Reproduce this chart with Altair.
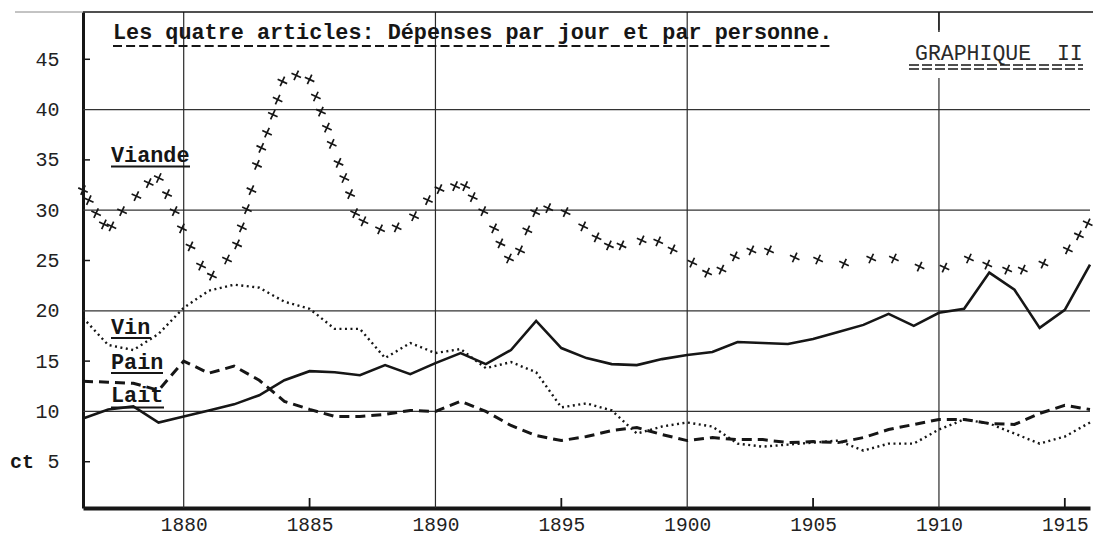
import altair as alt
import pandas as pd

# ---------------- data ----------------
years = list(range(1876, 1917))

vin = [19.3, 16.6, 16.1, 17.7, 20.3, 22.0, 22.6, 22.3, 20.9, 20.2,
       18.2, 18.2, 15.3, 16.8, 15.8, 16.2, 14.3, 14.9, 13.9, 10.4,
       10.8, 10.1, 7.8, 8.5, 8.9, 8.5, 6.8, 6.5, 6.7, 6.9,
       7.1, 6.1, 6.8, 6.8, 8.2, 9.2, 8.8, 7.8, 6.8, 7.5, 8.9]

pain = [13.0, 12.9, 12.8, 12.1, 15.0, 13.8, 14.5, 13.1, 11.0, 10.2,
        9.5, 9.5, 9.7, 10.1, 10.0, 11.0, 10.0, 8.6, 7.6, 7.1,
        7.5, 8.1, 8.4, 7.7, 7.1, 7.4, 7.2, 7.2, 6.9, 7.0,
        6.9, 7.4, 8.2, 8.7, 9.2, 9.2, 8.8, 8.7, 9.8, 10.6, 10.2]

lait = [9.3, 10.2, 10.5, 8.9, 9.5, 10.1, 10.7, 11.6, 13.1, 14.0,
        13.9, 13.6, 14.6, 13.7, 14.8, 15.8, 14.7, 16.1, 19.0, 16.3,
        15.3, 14.7, 14.6, 15.2, 15.6, 15.9, 16.9, 16.8, 16.7, 17.2,
        17.9, 18.6, 19.7, 18.5, 19.8, 20.2, 23.8, 22.1, 18.3, 20.1, 24.6]

viande_years = [1876.0, 1876.23, 1876.52, 1876.83, 1877.13, 1877.55, 1878.12, 1878.61,
                1879.01, 1879.34, 1879.64, 1879.93, 1880.27, 1880.69, 1881.12, 1881.72,
                1882.12, 1882.31, 1882.51, 1882.69, 1882.91, 1883.08, 1883.31, 1883.54,
                1883.73, 1883.92, 1884.47, 1885.0, 1885.25, 1885.45, 1885.69, 1885.88,
                1886.15, 1886.38, 1886.61, 1886.81, 1887.14, 1887.8, 1888.46, 1889.15,
                1889.7, 1890.16, 1890.78, 1891.18, 1891.48, 1891.9, 1892.33, 1892.58,
                1892.92, 1893.36, 1893.65, 1893.96, 1894.48, 1895.17, 1895.87, 1896.4,
                1896.89, 1897.39, 1898.19, 1898.85, 1899.42, 1900.2, 1900.79, 1901.36,
                1901.89, 1902.55, 1903.25, 1904.27, 1905.2, 1906.23, 1907.31, 1908.21,
                1909.23, 1910.22, 1911.19, 1911.92, 1912.71, 1913.33, 1914.15, 1915.12,
                1915.56, 1915.91]
viande = [32.0, 31.0, 29.7, 28.6, 28.4, 29.9, 31.4, 32.7,
          33.2, 31.6, 29.9, 28.2, 26.4, 24.5, 23.5, 25.1,
          26.6, 28.3, 30.1, 32.0, 34.5, 36.2, 37.7, 39.5,
          41.0, 42.8, 43.4, 43.0, 41.3, 39.8, 38.2, 36.6,
          34.7, 33.2, 31.6, 29.7, 28.9, 28.1, 28.3, 29.4,
          31.0, 32.1, 32.4, 32.4, 31.3, 29.9, 28.2, 26.7,
          25.2, 26.0, 28.0, 29.8, 30.2, 29.8, 28.4, 27.3,
          26.5, 26.5, 27.0, 26.9, 26.1, 24.8, 23.8, 24.1,
          25.4, 26.0, 26.0, 25.3, 25.1, 24.7, 25.2, 25.2,
          24.4, 24.3, 25.2, 24.6, 24.1, 24.1, 24.7, 26.1,
          27.5, 28.7]

x_tick_labels = [1880, 1885, 1890, 1895, 1900, 1905, 1910, 1915]
y_tick_labels = [5, 10, 15, 20, 25, 30, 35, 40, 45]
grid_years = [1880, 1890, 1900, 1910]
grid_values = [10, 20, 30, 40]
minor_x_ticks = [1885, 1895, 1905, 1915]
minor_y_ticks = [5, 15, 25, 35, 45]

title_text = "Les quatre articles: Dépenses par jour et par personne."
badge_text = "GRAPHIQUE\u00a0\u00a0II"

# ---------------- chart ----------------
FONT = "Liberation Mono"
INK = "#161616"
W, H = 1007, 496

xs = alt.Scale(domain=[1876, 1916], nice=False, zero=False)
ys = alt.Scale(domain=[0.4, 49.7], nice=False, zero=False)

x_axis = alt.Axis(values=x_tick_labels, format="d", title=None, grid=False, ticks=False,
                  labelFont=FONT, labelFontSize=19.5, labelColor="#222", labelPadding=22.5,
                  domainColor=INK, domainWidth=4, labelBaseline="alphabetic")
y_axis = alt.Axis(values=y_tick_labels, title=None, grid=False, ticks=False,
                  labelFont=FONT, labelFontSize=20, labelColor="#222", labelPadding=24,
                  domainColor=INK, domainWidth=3, labelBaseline="middle")


def X(field):
    return alt.X(field, type="quantitative", scale=xs, axis=x_axis)


def Y(field):
    return alt.Y(field, type="quantitative", scale=ys, axis=y_axis)


df_lines = pd.DataFrame({"year": years, "vin": vin, "pain": pain, "lait": lait})
df_viande = pd.DataFrame({"year": viande_years, "value": viande})
one = pd.DataFrame({"k": [0]})

hgrid = alt.Chart(pd.DataFrame({"v": grid_values})).mark_rule(
    color="#333", strokeWidth=1.3).encode(y=Y("v"))
vgrid = alt.Chart(pd.DataFrame({"yr": grid_years})).mark_rule(
    color="#2a2a2a", strokeWidth=1.2).encode(x=X("yr"))

blank = alt.Chart(one).mark_rect(color="white").encode(
    x=alt.value(820), x2=alt.value(1006), y=alt.value(18), y2=alt.value(66))

top_faint = alt.Chart(one).mark_rule(color="#888", strokeWidth=1).encode(
    x=alt.value(-68), x2=alt.value(0), y=alt.value(0))
top_line = alt.Chart(one).mark_rule(color=INK, strokeWidth=1.6).encode(
    x=alt.value(0), x2=alt.value(1010), y=alt.value(0))
top_tick = alt.Chart(pd.DataFrame({"yr": [1910]})).mark_rule(color=INK, strokeWidth=1.4).encode(
    x=X("yr"), y=alt.value(0), y2=alt.value(20))

yticks = alt.Chart(pd.DataFrame({"v": minor_y_ticks})).mark_rule(color=INK, strokeWidth=1.5).encode(
    y=Y("v"), x=alt.value(0), x2=alt.value(7))
xticks = alt.Chart(pd.DataFrame({"yr": minor_x_ticks})).mark_rule(color=INK, strokeWidth=1.8).encode(
    x=X("yr"), y=alt.value(H), y2=alt.value(H - 10))

lait_line = alt.Chart(df_lines).mark_line(color=INK, strokeWidth=2.6).encode(
    x=X("year"), y=Y("lait"))
pain_line = alt.Chart(df_lines).mark_line(color=INK, strokeWidth=3, strokeDash=[10, 6]).encode(
    x=X("year"), y=Y("pain"))
vin_line = alt.Chart(df_lines).mark_line(color=INK, strokeWidth=2.4, strokeDash=[2, 3.5]).encode(
    x=X("year"), y=Y("vin"))

viande_pts = alt.Chart(df_viande).mark_point(
    shape="M-1,0L1,0M0,-1L0,1", angle=25, size=110, filled=False,
    color=INK, strokeWidth=1.7, opacity=1).encode(
    x=X("year"), y=Y("value"))


def text(t, x, y, size=21.8, weight="bold", color=INK, baseline="alphabetic"):
    return alt.Chart(one).mark_text(
        text=t, font=FONT, fontSize=size, fontWeight=weight, color=color,
        align="left", baseline=baseline).encode(x=alt.value(x), y=alt.value(y))


def uline(x1, x2, y, dash=None, width=2.0):
    kw = dict(color=INK, strokeWidth=width)
    if dash:
        kw["strokeDash"] = dash
    return alt.Chart(one).mark_rule(**kw).encode(
        x=alt.value(x1), x2=alt.value(x2), y=alt.value(y))


ct_label = text("ct", -73, 450, size=20, baseline="middle")

layers = [
    hgrid, vgrid, blank, top_faint, top_line, top_tick, yticks, xticks,
    lait_line, pain_line, vin_line, viande_pts,
    text(title_text, 30, 26.5),
    uline(30, 750, 34, dash=[9, 4.1]),
    text(badge_text, 832, 47.5, size=21.5, weight="normal", color="#2a2a2a"),
    uline(826, 1000, 53, dash=[10, 3], width=1.4),
    uline(826, 1000, 57, dash=[10, 3], width=1.4),
    text("Viande", 28, 150), uline(28, 107, 154.5),
    text("Vin", 28, 322), uline(28, 68, 326),
    text("Pain", 28, 357), uline(28, 80, 361),
    text("Lait", 28, 390), uline(28, 81, 395.5),
    ct_label,
]

chart = alt.layer(*layers).properties(
    width=W, height=H,
    autosize=alt.AutoSizeParams(type="none"),
    padding={"left": 75, "top": 4, "right": 5, "bottom": 28},
    background="white",
).configure_view(stroke=None)

chart.save("out.html", embed_options={"renderer": "svg", "actions": False})
